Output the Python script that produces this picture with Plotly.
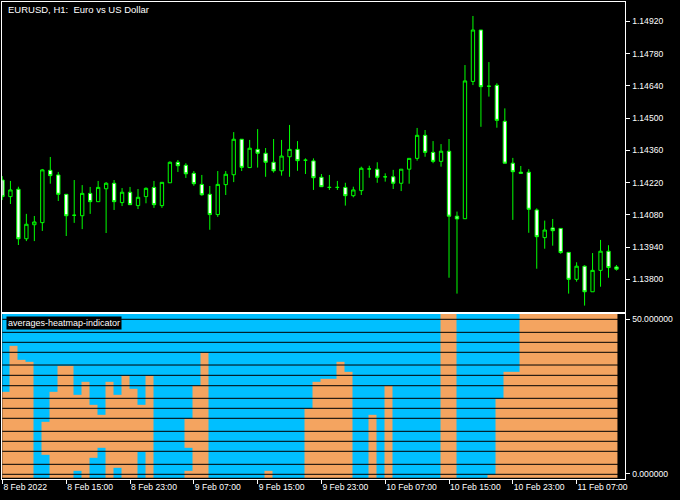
import plotly.graph_objects as go

# ---------------- data ----------------
time_labels = ["8 Feb 2022", "8 Feb 15:00", "8 Feb 23:00", "9 Feb 07:00", "9 Feb 15:00",
               "9 Feb 23:00", "10 Feb 07:00", "10 Feb 15:00", "10 Feb 23:00", "11 Feb 07:00"]
time_label_bars = [0, 8, 16, 24, 32, 40, 48, 56, 64, 72]

open_ = [1.14231, 1.14159, 1.14191, 1.13976, 1.14037, 1.14046, 1.14273, 1.14253, 1.14169, 1.14078,
         1.14076, 1.14173, 1.14137, 1.14193, 1.14217, 1.14133, 1.14178, 1.14120, 1.14159, 1.14199,
         1.14120, 1.14219, 1.14308, 1.14295, 1.14260, 1.14212, 1.14169, 1.14081, 1.14211, 1.14254,
         1.14408, 1.14285, 1.14364, 1.14347, 1.14308, 1.14271, 1.14332, 1.14364, 1.14317, 1.14314,
         1.14243, 1.14199, 1.14199, 1.14199, 1.14163, 1.14185, 1.14279, 1.14278, 1.14245, 1.14245,
         1.14217, 1.14278, 1.14325, 1.14425, 1.14351, 1.14312, 1.14356, 1.14074, 1.14063, 1.14659,
         1.14882, 1.14638, 1.14642, 1.14486, 1.14304, 1.14265, 1.14265, 1.14101, 1.13981, 1.14023,
         1.14021, 1.13917, 1.13800, 1.13857, 1.13746, 1.13839, 1.13922, 1.13854]
high = [1.14248, 1.14227, 1.14202, 1.14084, 1.14075, 1.14279, 1.14331, 1.14266, 1.14169, 1.14231,
        1.14209, 1.14201, 1.14227, 1.14222, 1.14231, 1.14196, 1.14201, 1.14192, 1.14199, 1.14227,
        1.14221, 1.14312, 1.14318, 1.14304, 1.14270, 1.14253, 1.14205, 1.14270, 1.14270, 1.14439,
        1.14409, 1.14405, 1.14452, 1.14370, 1.14409, 1.14405, 1.14470, 1.14400, 1.14325, 1.14325,
        1.14257, 1.14253, 1.14227, 1.14219, 1.14202, 1.14289, 1.14293, 1.14308, 1.14260, 1.14275,
        1.14278, 1.14325, 1.14457, 1.14448, 1.14400, 1.14387, 1.14409, 1.14094, 1.14730, 1.14943,
        1.14882, 1.14743, 1.14651, 1.14542, 1.14327, 1.14292, 1.14278, 1.14108, 1.14055, 1.14062,
        1.14021, 1.13917, 1.13874, 1.13861, 1.13914, 1.13971, 1.13948, 1.13862]
low = [1.14144, 1.14127, 1.13949, 1.13966, 1.13966, 1.14010, 1.14215, 1.14140, 1.13988, 1.14045,
       1.14018, 1.14084, 1.14137, 1.14001, 1.14101, 1.14118, 1.14124, 1.14105, 1.14130, 1.14110,
       1.14110, 1.14219, 1.14266, 1.14240, 1.14206, 1.14163, 1.14015, 1.14071, 1.14166, 1.14222,
       1.14270, 1.14283, 1.14285, 1.14245, 1.14263, 1.14250, 1.14245, 1.14271, 1.14257, 1.14188,
       1.14202, 1.14188, 1.14188, 1.14120, 1.14156, 1.14166, 1.14241, 1.14219, 1.14224, 1.14192,
       1.14183, 1.14215, 1.14315, 1.14332, 1.14304, 1.14289, 1.13807, 1.13738, 1.14062, 1.14643,
       1.14462, 1.14593, 1.14458, 1.14304, 1.14058, 1.14260, 1.14002, 1.13846, 1.13933, 1.13946,
       1.13911, 1.13738, 1.13790, 1.13686, 1.13746, 1.13768, 1.13807, 1.13838]
close = [1.14159, 1.14188, 1.13976, 1.14039, 1.14049, 1.14275, 1.14250, 1.14169, 1.14076, 1.14078,
         1.14173, 1.14137, 1.14199, 1.14217, 1.14137, 1.14178, 1.14124, 1.14156, 1.14195, 1.14124,
         1.14221, 1.14308, 1.14293, 1.14258, 1.14215, 1.14167, 1.14081, 1.14212, 1.14256, 1.14408,
         1.14286, 1.14369, 1.14347, 1.14308, 1.14271, 1.14335, 1.14364, 1.14315, 1.14317, 1.14241,
         1.14202, 1.14199, 1.14199, 1.14163, 1.14188, 1.14282, 1.14279, 1.14243, 1.14245, 1.14217,
         1.14278, 1.14325, 1.14425, 1.14351, 1.14312, 1.14356, 1.14074, 1.14062, 1.14661, 1.14882,
         1.14636, 1.14638, 1.14490, 1.14304, 1.14267, 1.14260, 1.14104, 1.13985, 1.14014, 1.14011,
         1.13916, 1.13800, 1.13857, 1.13746, 1.13839, 1.13922, 1.13851, 1.13844]

price_ticks = [1.13800, 1.13940, 1.14080, 1.14220, 1.14360, 1.14500, 1.14640, 1.14780, 1.14920]

# indicator: per bar 1..77, colour at the top (B = blue, O = orange) and
# the levels (top -> bottom) at which the colour flips
heat_start = "B" * 55 + "OO" + "B" * 8 + "O" * 12
heat_switch = [
    [26.5], [41.4], [37.0], [36.3], [], [16.8, 6.0], [26.5], [34.9], [34.9], [25.5, 0.8],
    [29.8], [22.2, 5.1], [19.0, 8.4], [29.8], [25.5, 1.9], [31.7], [27.4], [22.2, 7.1], [31.7],
    [], [], [], [],
    [17.9, 8.4, 0.8], [28.5], [39.0],
    [], [], [], [], [], [], [],
    [0.8],
    [], [], [], [],
    [21.1], [29.8], [30.6], [30.6], [36.3], [33.0],
    [], [], [19.0], [], [28.5],
    [], [], [], [], [], [],
    [], [],
    [], [], [], [],
    [-0.3], [24.4], [33.0], [33.0],
    [], [], [], [], [], [], [], [], [], [], [], [],
]
heat_levels = [50.0, 45.78, 42.54, 39.30, 35.18, 31.84, 28.47, 24.38, 21.14, 17.90,
               13.68, 10.44, 7.20, 2.98, -0.26]
ind_ticks = [0, 50]
ind_ticktext = ["0.000000", "50.000000"]

# ---------------- build ----------------
W, H = 680, 500
FONT = "Liberation Sans, Arial, sans-serif"
GREEN = "#00FF00"
BLUE = "#00BFFF"
ORANGE = "#F4A460"

bars = list(range(len(open_)))

# heatmap grid
y_edges = sorted(set([-1.4, 51.8] + [v for col in heat_switch for v in col]))
n_cols = len(heat_switch)
z = []
for r in range(len(y_edges) - 1):
    mid = 0.5 * (y_edges[r] + y_edges[r + 1])
    row = []
    for c in range(n_cols):
        col = heat_start[c]
        for s in heat_switch[c]:
            if s > mid:
                col = "O" if col == "B" else "B"
        row.append(0 if col == "B" else 1)
    z.append(row)
x_edges = [k - 1.125 for k in range(1, n_cols + 1)] + [n_cols + 0.125]

fig = go.Figure()

fig.add_trace(go.Candlestick(
    x=bars, open=open_, high=high, low=low, close=close,
    increasing=dict(line=dict(color=GREEN, width=1), fillcolor="black"),
    decreasing=dict(line=dict(color=GREEN, width=1), fillcolor="white"),
    whiskerwidth=0, xaxis="x", yaxis="y", showlegend=False, hoverinfo="skip",
))

fig.add_trace(go.Heatmap(
    x=x_edges, y=y_edges, z=z, zmin=0, zmax=1,
    colorscale=[[0, BLUE], [0.5, BLUE], [0.5, ORANGE], [1, ORANGE]],
    showscale=False, xaxis="x2", yaxis="y2", hoverinfo="skip",
))

lx, ly = [], []
for v in heat_levels:
    lx += [-1, 80, None]
    ly += [v, v, None]
fig.add_trace(go.Scatter(x=lx, y=ly, mode="lines", line=dict(color="black", width=1),
                         xaxis="x2", yaxis="y2", showlegend=False, hoverinfo="skip"))

left, right = 2.3, 627.3
main_top, main_bot = 2.3, 311.7
ind_top, ind_bot = 313.7, 479.0

def px_x(p):
    return p / W

def px_y(p):
    return 1 - p / H

p_top = 1.150123 - 0.0000434 * main_top
p_bot = 1.150123 - 0.0000434 * main_bot
xr = [-0.02, 78.125]

axis_common = dict(showgrid=False, zeroline=False, showline=True, mirror=True,
                   linecolor="white", linewidth=1)
tick_font = dict(family=FONT, size=8.6, color="white")

fig.update_layout(
    width=W, height=H, margin=dict(l=0, r=0, t=0, b=0),
    paper_bgcolor="black", plot_bgcolor="black",
    font=dict(family=FONT, size=9, color="white"),
    boxgap=0.4,
    xaxis=dict(domain=[px_x(left), px_x(right)], range=xr, anchor="y",
               showticklabels=False, ticks="", rangeslider=dict(visible=False),
               **axis_common),
    yaxis=dict(domain=[px_y(main_bot), px_y(main_top)], range=[p_bot, p_top], anchor="x",
               side="right", tickvals=price_ticks, ticktext=[f"{v:.5f}" for v in price_ticks],
               ticks="outside", ticklen=4, tickcolor="white",
               tickfont=tick_font, **axis_common),
    xaxis2=dict(domain=[px_x(left), px_x(right)], range=xr, anchor="y2", matches="x",
                tickvals=time_label_bars, ticktext=time_labels, ticks="outside", ticklen=4,
                tickcolor="white", ticklabelposition="outside right",
                tickfont=tick_font, **axis_common),
    yaxis2=dict(domain=[px_y(ind_bot), px_y(ind_top)], range=[-1.78, 51.82], anchor="x2",
                side="right", tickvals=ind_ticks, ticktext=ind_ticktext,
                ticks="outside", ticklen=4, tickcolor="white",
                tickfont=tick_font, **axis_common),
    annotations=[
        dict(text="EURUSD, H1:\u00a0 Euro vs US Dollar", xref="paper", yref="paper",
             x=px_x(6.5), y=px_y(9.7), xanchor="left", yanchor="middle", showarrow=False,
             font=dict(family=FONT, size=9.5, color="white")),
        dict(text="averages-heatmap-indicator", xref="paper", yref="paper",
             x=px_x(6), y=px_y(323), xanchor="left", yanchor="middle", showarrow=False,
             bgcolor="black", borderpad=1,
             font=dict(family=FONT, size=9, color="white")),
    ],
)

fig.write_html(
    "out.html",
    config={"displayModeBar": False},
    post_script="document.body.style.margin='0';document.body.style.overflow='hidden';",
)
